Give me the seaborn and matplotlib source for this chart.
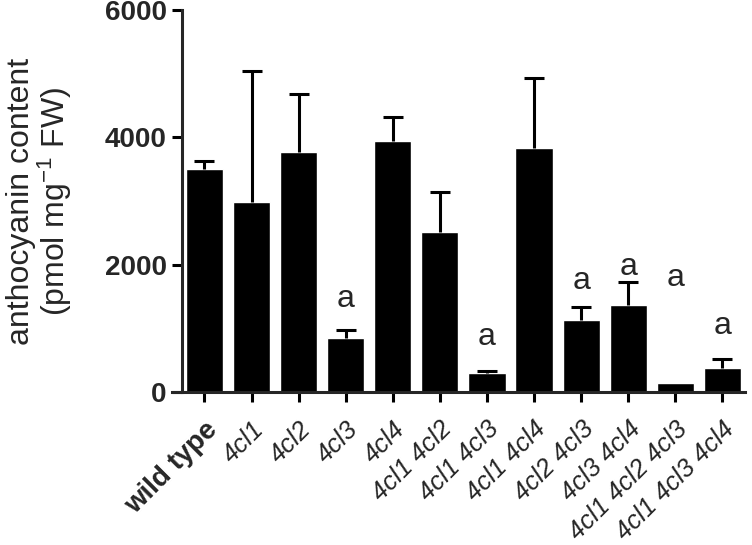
import matplotlib

matplotlib.use("Agg")
import matplotlib.pyplot as plt
import numpy as np
import pandas as pd
import seaborn as sns

# values
genotypes = [
    "wild type", "4cl1", "4cl2", "4cl3", "4cl4", "4cl1 4cl2", "4cl1 4cl3",
    "4cl1 4cl4", "4cl2 4cl3", "4cl3 4cl4", "4cl1 4cl2 4cl3", "4cl1 4cl3 4cl4",
]
anthocyanin = [3500, 2980, 3770, 850, 3940, 2510, 300, 3830, 1130, 1370, 140, 380]
error_up = [130, 2060, 910, 125, 380, 630, 30, 1100, 200, 360, 0, 140]
letters = ["", "", "", "a", "", "", "a", "", "a", "a", "a", "a"]
letter_y = [0, 0, 0, 1330, 0, 0, 740, 0, 1620, 1840, 1660, 910]
y_ticks = [0, 2000, 4000, 6000]

df = pd.DataFrame({"genotype": genotypes, "content": anthocyanin})

sns.set_style("ticks")
plt.rcParams["font.family"] = ["Liberation Sans", "DejaVu Sans"]
plt.rcParams["mathtext.fontset"] = "custom"
plt.rcParams["mathtext.rm"] = "Liberation Sans"
plt.rcParams["mathtext.it"] = "Liberation Sans:italic"

fig = plt.figure(figsize=(7.52, 5.45), dpi=100)
ax = fig.add_axes([172 / 752, 1 - 392 / 545, (745 - 172) / 752, (392 - 10) / 545])

sns.barplot(data=df, x="genotype", y="content", order=genotypes, color="black",
            saturation=1, width=0.79, errorbar=None, ax=ax)

# upper error bars only, skip bars with no visible error
x = np.arange(len(genotypes))
err = np.array(error_up)
has_err = err > 0
_, caps, _ = ax.errorbar(x[has_err], np.array(anthocyanin)[has_err],
                         yerr=[np.zeros(has_err.sum()), err[has_err]], fmt="none",
                         ecolor="black", elinewidth=2.2, capsize=7, capthick=2.2)
caps[0].set_visible(False)

for xi, lab, ly in zip(x, letters, letter_y):
    if lab:
        ax.text(xi, ly, lab, ha="center", va="baseline", fontsize=23)

# left spine sits a little inside the x-axis start (GraphPad look)
sns.despine(ax=ax)
ax.spines["left"].set_position(("data", -0.48))
for side in ["left", "bottom"]:
    ax.spines[side].set_linewidth(2.2)

ax.set_ylim(0, 6000)
ax.set_xlim(-0.69, 11.48)
ax.set_yticks(y_ticks)
ax.set_yticklabels([str(t) for t in y_ticks], fontsize=20, fontweight="bold")
ax.tick_params(axis="both", width=2.2, length=7, color="black")
ax.tick_params(axis="y", pad=4)
ax.tick_params(axis="x", pad=11)

ax.set_xlabel("")
ax.set_ylabel("anthocyanin content\n(pmol mg$^{-1}$ FW)", fontsize=23,
              labelpad=22, linespacing=1.0)
ax.set_xticks(x)
ax.set_xticklabels(genotypes, rotation=45, ha="right", va="top",
                   rotation_mode="anchor", fontsize=18.5)
for lbl in ax.get_xticklabels():
    if lbl.get_text() == "wild type":
        lbl.set_fontweight("bold")
        lbl.set_fontsize(20)
    else:
        lbl.set_fontstyle("italic")

plt.savefig("out.png", dpi=100)
plt.close()
